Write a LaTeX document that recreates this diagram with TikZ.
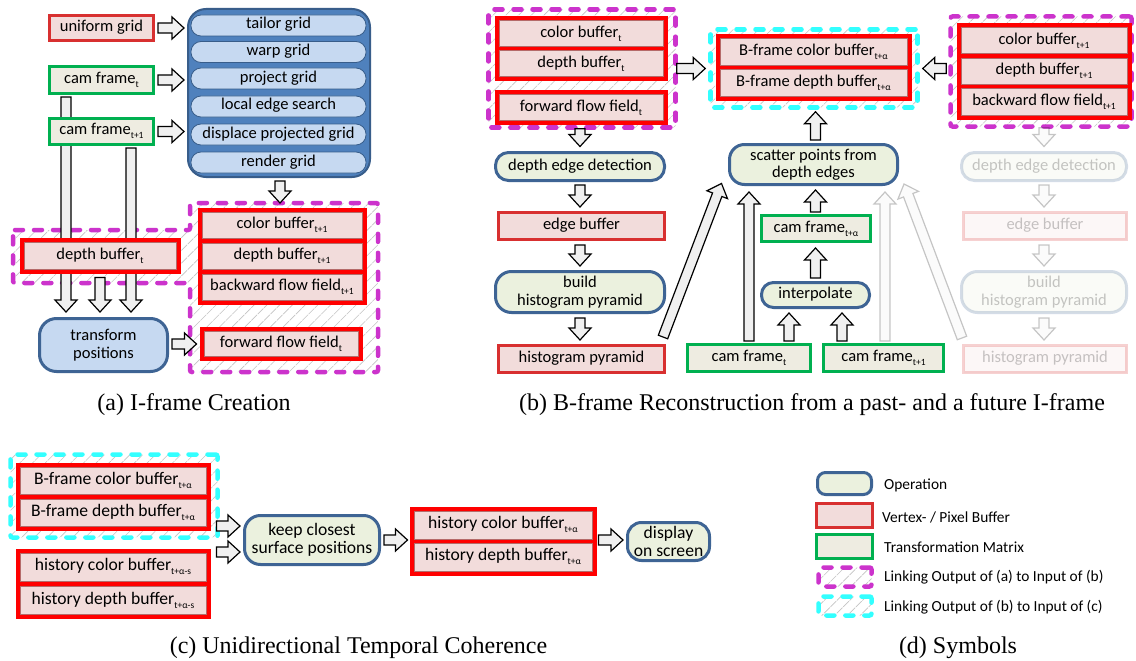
\documentclass[tikz,border=0pt]{standalone}
\usepackage{fontspec}
\setmainfont{Carlito}
\newfontfamily\capfont{Liberation Serif}
\usetikzlibrary{calc,fit,patterns.meta}
\pgfdeclarelayer{bg}
\pgfdeclarelayer{hatch}
\pgfdeclarelayer{under}
\pgfdeclarelayer{groups}
\pgfsetlayers{bg,hatch,under,groups,main}

\definecolor{bufred}{HTML}{FF0000}
\definecolor{bufpink}{HTML}{F2DCDB}
\definecolor{rowedge}{HTML}{B56B6A}
\definecolor{solored}{HTML}{D83030}
\definecolor{camgreen}{HTML}{00B050}
\definecolor{camfill}{HTML}{EEECE1}
\definecolor{opfill}{HTML}{EBF1DE}
\definecolor{opedge}{HTML}{3E6494}
\definecolor{gridblue}{HTML}{4F81BD}
\definecolor{gridedge}{HTML}{385D8A}
\definecolor{pillfill}{HTML}{C6D9F1}
\definecolor{linkmag}{HTML}{CC33CC}
\definecolor{linkcyan}{HTML}{33FFFF}
\definecolor{arrowfill}{HTML}{F0F0F0}
\definecolor{hatchgray}{HTML}{C4C4C4}

\newcommand\fa{\fontsize{16.5}{17.5}\selectfont}
\newcommand\fc{\fontsize{17.6}{18.6}\selectfont}
\newcommand\fl{\fontsize{15.4}{16}\selectfont}
\newcommand\sbs[1]{\raisebox{-4pt}[0pt][0pt]{\fontsize{9.5}{9.5}\selectfont #1}}

% block arrow from #2 to #3
\newcommand\barrow[3][]{%
  \coordinate (ba-s) at (#2);
  \coordinate (ba-e) at (#3);
  \coordinate (ba-h) at ($(ba-e)!12pt!(ba-s)$);
  \draw[blockarrow,#1] ($(ba-s)!5pt!90:(ba-e)$) -- ($(ba-h)!5pt!90:(ba-e)$)
    -- ($(ba-h)!11pt!90:(ba-e)$) -- (ba-e) -- ($(ba-h)!11pt!-90:(ba-e)$)
    -- ($(ba-h)!5pt!-90:(ba-e)$) -- ($(ba-s)!5pt!-90:(ba-e)$) -- cycle;
}

\tikzset{
  sz/.style 2 args={minimum width=#1pt, minimum height=#2pt},
  lbl/.style={font=\fa, inner sep=0pt, align=center},
  one/.style={text height=11pt, text depth=4pt},
  row/.style={lbl, one, draw=rowedge, line width=1pt, fill=bufpink},
  grp/.style={fill=bufred, inner sep=4pt, draw=none},
  solo/.style={lbl, one, draw=solored, line width=3pt, fill=bufpink},
  cam/.style={lbl, one, draw=camgreen, line width=3pt, fill=camfill},
  op/.style={lbl, rounded corners=13pt, draw=opedge, line width=3pt, fill=opfill},
  pill/.style={lbl, one, rounded corners=10pt, draw=gridedge, line width=0.8pt, fill=pillfill},
  zone/.style={line width=4.5pt, dash pattern=on 8pt off 11pt, line cap=round,
    rounded corners=2pt, pattern={Lines[angle=45,distance=9pt,line width=0.6pt]},
    pattern color=hatchgray},
  zonea/.style={zone, draw=linkmag},
  zoneb/.style={zone, draw=linkcyan},
  blockarrow/.style={draw=black, line width=1.2pt, fill=arrowfill, line join=miter},
  faded/.style={opacity=0.22},
  captxt/.style={font=\capfont\fontsize{24}{26}\selectfont, inner sep=0pt, anchor=base},
  legtext/.style={font=\fl, inner sep=0pt, anchor=west},
}

\begin{document}
\begin{tikzpicture}[x=1pt,y=-1pt]
\useasboundingbox (0,0) rectangle (1136,661);
\begin{pgfonlayer}{bg}
  \fill[white] (0,0) rectangle (1136,661);
\end{pgfonlayer}

% ---------- linking zones (hatched, dashed) ----------
\begin{pgfonlayer}{hatch}
  \draw[zonea] (13,230) -- (190,230) -- (190,203) -- (378,203) -- (378,372)
    -- (190,372) -- (190,283) -- (13,283) -- cycle;
  \node[zonea, sz={187}{118}] (magL) at (582,68.5) {};
  \node[zoneb, sz={207}{78}] (cyanB) at (814,68.5) {};
  \node[zonea, sz={181}{110}] (magR) at (1041,71.5) {};
  \node[zoneb, sz={207}{83}] (cyanC) at (114,496) {};
  \node[zonea, sz={53}{19}] (legmag) at (845,577) {};
  \node[zoneb, sz={53}{19}] (legcyan) at (845,606) {};
\end{pgfonlayer}

% ---------- (a) I-frame creation ----------
\node[solo, sz={104}{25}] (uni) at (101.5,28) {uniform grid};
\node[rounded corners=18pt, draw=gridedge, line width=2pt, fill=gridblue, sz={182}{168}] (grid) at (279,93) {};
\node[pill, sz={175}{21}] (tailor) at (278.5,25.5) {tailor grid};
\node[pill, sz={175}{21}] (warp) at (278.5,52) {warp grid};
\node[pill, sz={175}{21}] (project) at (278.5,78.5) {project grid};
\node[pill, sz={175}{21}] (local) at (278.5,106.5) {local edge search};
\node[pill, sz={175}{21}] (displace) at (278.5,134.5) {displace projected grid};
\node[pill, sz={175}{21}] (render) at (278.5,162.5) {render grid};
\node[cam, sz={104}{27}] (camta) at (101.5,80) {cam frame\sbs{t}};
\node[cam, sz={104}{26}] (camt1a) at (101.5,131.5) {cam frame\sbs{t+1}};
\node[row, sz={152}{27}] (dbta) at (100,255.5) {depth buffer\sbs{t}};
\node[row, sz={160}{26}] (cb1a) at (282,225) {color buffer\sbs{t+1}};
\node[row, sz={160}{26}] (db1a) at (282,256) {depth buffer\sbs{t+1}};
\node[row, sz={160}{26}] (bf1a) at (282,287) {backward flow field\sbs{t+1}};
\node[row, sz={154}{25}] (fwda) at (281,344) {forward flow field\sbs{t}};
\node[op, fill=pillfill, rounded corners=17pt, sz={128}{53}] (transform) at (103.5,345) {transform\\positions};

\begin{pgfonlayer}{groups}
  \node[grp, fit=(dbta)] {};
  \node[grp, fit=(cb1a)(db1a)(bf1a)] {};
  \node[grp, fit=(fwda)] {};
\end{pgfonlayer}

\barrow{$(uni.east)+(3,0)$}{$(grid.west |- uni.east)+(-3,0)$}
\barrow{$(camta.east)+(3,0)$}{$(grid.west |- camta.east)+(-3,0)$}
\barrow{$(camt1a.east)+(3,0)$}{$(grid.west |- camt1a.east)+(-3,0)$}
\barrow{$(grid.south)+(1,3)$}{$(grid.south)+(1,25)$}
\begin{pgfonlayer}{under}
  \barrow{$(camta.south)+(-35.5,2)$}{$(transform.north)+(-37.5,-5)$}
  \barrow{$(camt1a.south)+(29.5,2)$}{$(transform.north)+(27.5,-5)$}
\end{pgfonlayer}
\barrow{$(dbta.south)+(0,8)$}{$(transform.north)+(-3.5,-5)$}
\barrow{$(transform.east |- fwda.west)+(3,0)$}{$(fwda.west)+(-7,0)$}

% ---------- (b) B-frame reconstruction ----------
\node[row, sz={164}{26}] (cbtb) at (581,34) {color buffer\sbs{t}};
\node[row, sz={164}{26}] (dbtb) at (581,64) {depth buffer\sbs{t}};
\node[row, sz={164}{25}] (fwdb) at (581,107.5) {forward flow field\sbs{t}};
\node[op, sz={169}{28}, one] (dedge) at (580,166.5) {depth edge detection};
\node[solo, sz={166}{27}] (ebuf) at (581.5,226) {edge buffer};
\node[op, rounded corners=16pt, sz={169}{41}] (build) at (580,292) {build\\histogram pyramid};
\node[solo, sz={166}{27}] (hist) at (581.5,359) {histogram pyramid};
\node[op, rounded corners=15pt, sz={168}{40}] (scatter) at (813.5,164.5) {scatter points from\\depth edges};
\node[row, sz={187}{27}] (bfcb) at (813.5,52.5) {B-frame color buffer\sbs{t+α}};
\node[row, sz={187}{27}] (bfdb) at (813.5,83.5) {B-frame depth buffer\sbs{t+α}};
\node[row, sz={166}{26}] (cb1b) at (1044,41) {color buffer\sbs{t+1}};
\node[row, sz={166}{26}] (db1b) at (1044,71.5) {depth buffer\sbs{t+1}};
\node[row, sz={166}{26}] (bf1b) at (1044,102) {backward flow field\sbs{t+1}};
\node[cam, sz={109}{26}] (camtab) at (816,228.5) {cam frame\sbs{t+α}};
\node[op, one, rounded corners=12pt, sz={108}{25}] (interp) at (815.5,295) {interpolate};
\node[cam, sz={123}{27}] (camtb) at (749,358) {cam frame\sbs{t}};
\node[cam, sz={120}{27}] (camt1b) at (883.5,358) {cam frame\sbs{t+1}};

\node[op, one, faded, sz={165}{28}] (fdedge) at (1044,166.5) {depth edge detection};
\node[solo, faded, sz={163}{27}] (febuf) at (1045,226) {edge buffer};
\node[op, faded, rounded corners=16pt, sz={165}{41}] (fbuild) at (1044,292) {build\\histogram pyramid};
\node[solo, faded, sz={163}{27}] (fhist) at (1045,359) {histogram pyramid};

\begin{pgfonlayer}{groups}
  \node[grp, fit=(cbtb)(dbtb)] {};
  \node[grp, fit=(fwdb)] {};
  \node[grp, fit=(bfcb)(bfdb)] {};
  \node[grp, fit=(cb1b)(db1b)(bf1b)] {};
\end{pgfonlayer}

\barrow{$(magL.east)+(-1,0)$}{$(cyanB.west)+(-3,0)$}
\barrow{$(magR.west |- cyanB.east)+(-2,0)$}{$(cyanB.east)+(3,0)$}
\barrow{$(dedge.north |- magL.south)+(0,-1)$}{$(dedge.north)+(0,-4.5)$}
\barrow{$(dedge.south)+(0,3)$}{$(ebuf.north -| dedge.south)+(0,-4)$}
\barrow{$(ebuf.south -| build.north)+(0,4)$}{$(build.north)+(0,-4)$}
\barrow{$(build.south)+(0,4)$}{$(hist.north -| build.south)+(0,-4)$}
\barrow{$(hist.north east)+(-3,-7)$}{$(scatter.south west)+(-6.5,-2.5)$}
\barrow{$(camtb.north)+(0,-2)$}{$(scatter.south -| camtb.north)+(0,6)$}
\barrow{$(camtb.north)+(40,-2)$}{$(interp.south)+(-26.5,4)$}
\barrow{$(camt1b.north)+(-41.5,-2)$}{$(interp.south)+(26.5,4)$}
\barrow{$(interp.north)+(0,-3)$}{$(camtab.south)+(-0.5,5)$}
\barrow{$(camtab.north)+(-0.5,-2)$}{$(scatter.south)+(2,4)$}
\barrow{$(scatter.north)+(2,-3)$}{$(cyanB.south)+(1.5,2)$}

\barrow[faded]{$(camt1b.north)+(1.5,-2)$}{$(scatter.south -| camt1b.north)+(1.5,6)$}
\barrow[faded]{$(fhist.north west)+(0,-6)$}{$(scatter.south east)+(5,-2)$}
\barrow[faded]{$(magR.south)+(3,-1)$}{$(fdedge.north)+(0,-4.5)$}
\barrow[faded]{$(fdedge.south)+(0,3)$}{$(febuf.north -| fdedge.south)+(0,-4)$}
\barrow[faded]{$(febuf.south -| fbuild.north)+(0,4)$}{$(fbuild.north)+(0,-4)$}
\barrow[faded]{$(fbuild.south)+(0,4)$}{$(fhist.north -| fbuild.south)+(0,-4)$}

% ---------- (c) unidirectional temporal coherence ----------
\node[row, font=\fc, sz={186}{27}] (bfcc) at (113,480.5) {B-frame color buffer\sbs{t+α}};
\node[row, font=\fc, sz={186}{27}] (bfdc) at (113,512.5) {B-frame depth buffer\sbs{t+α}};
\node[row, font=\fc, sz={186}{28}] (hcs) at (113,567) {history color buffer\sbs{t+α-s}};
\node[row, font=\fc, sz={186}{28}] (hds) at (113,600.5) {history depth buffer\sbs{t+α-s}};
\node[op, font=\fc, rounded corners=16pt, sz={135}{49}] (keep) at (312,540) {keep closest\\surface positions};
\node[row, font=\fc, sz={178}{28}] (hca) at (503,525) {history color buffer\sbs{t+α}};
\node[row, font=\fc, sz={178}{28}] (hda) at (503,557) {history depth buffer\sbs{t+α}};
\node[op, font=\fc, rounded corners=14pt, sz={82}{38}] (disp) at (668.5,541.5) {display\\on screen};

\begin{pgfonlayer}{groups}
  \node[grp, fit=(bfcc)(bfdc)] {};
  \node[grp, fit=(hcs)(hds)] {};
  \node[grp, fit=(hca)(hda)] {};
\end{pgfonlayer}

\barrow{$(bfdc.east)+(10,13.5)$}{$(keep.west)+(-3,-14)$}
\barrow{$(hcs.east)+(10,-15)$}{$(keep.west)+(-3,12)$}
\barrow{$(keep.east)+(3,0)$}{$(hca.west |- keep.east)+(-6,0)$}
\barrow{$(hca.east |- keep.east)+(6,0)$}{$(disp.west |- keep.east)+(-3,0)$}

% ---------- (d) symbols ----------
\node[op, rounded corners=8pt, sz={54}{22}] (legop) at (844.5,483.5) {};
\node[solo, sz={56}{24}] (legbuf) at (844.5,515.5) {};
\node[cam, sz={56}{24}] (legcam) at (844.5,546.5) {};
\node[legtext] (top) at (884,485) {Operation};
\node[legtext] (tbuf) at (882,517) {Vertex- / Pixel Buffer};
\node[legtext] (tcam) at (884,547) {Transformation Matrix};
\node[legtext] (tmag) at (884,577) {Linking Output of (a) to Input of (b)};
\node[legtext] (tcyan) at (884,607) {Linking Output of (b) to Input of (c)};

% ---------- captions ----------
\node[captxt] (capa) at (194,410) {(a) I-frame Creation};
\node[captxt] (capb) at (812,410) {(b) B-frame Reconstruction from a past- and a future I-frame};
\node[captxt] (capc) at (358.5,653) {(c) Unidirectional Temporal Coherence};
\node[captxt] (capd) at (958,653) {(d) Symbols};
\end{tikzpicture}
\end{document}
